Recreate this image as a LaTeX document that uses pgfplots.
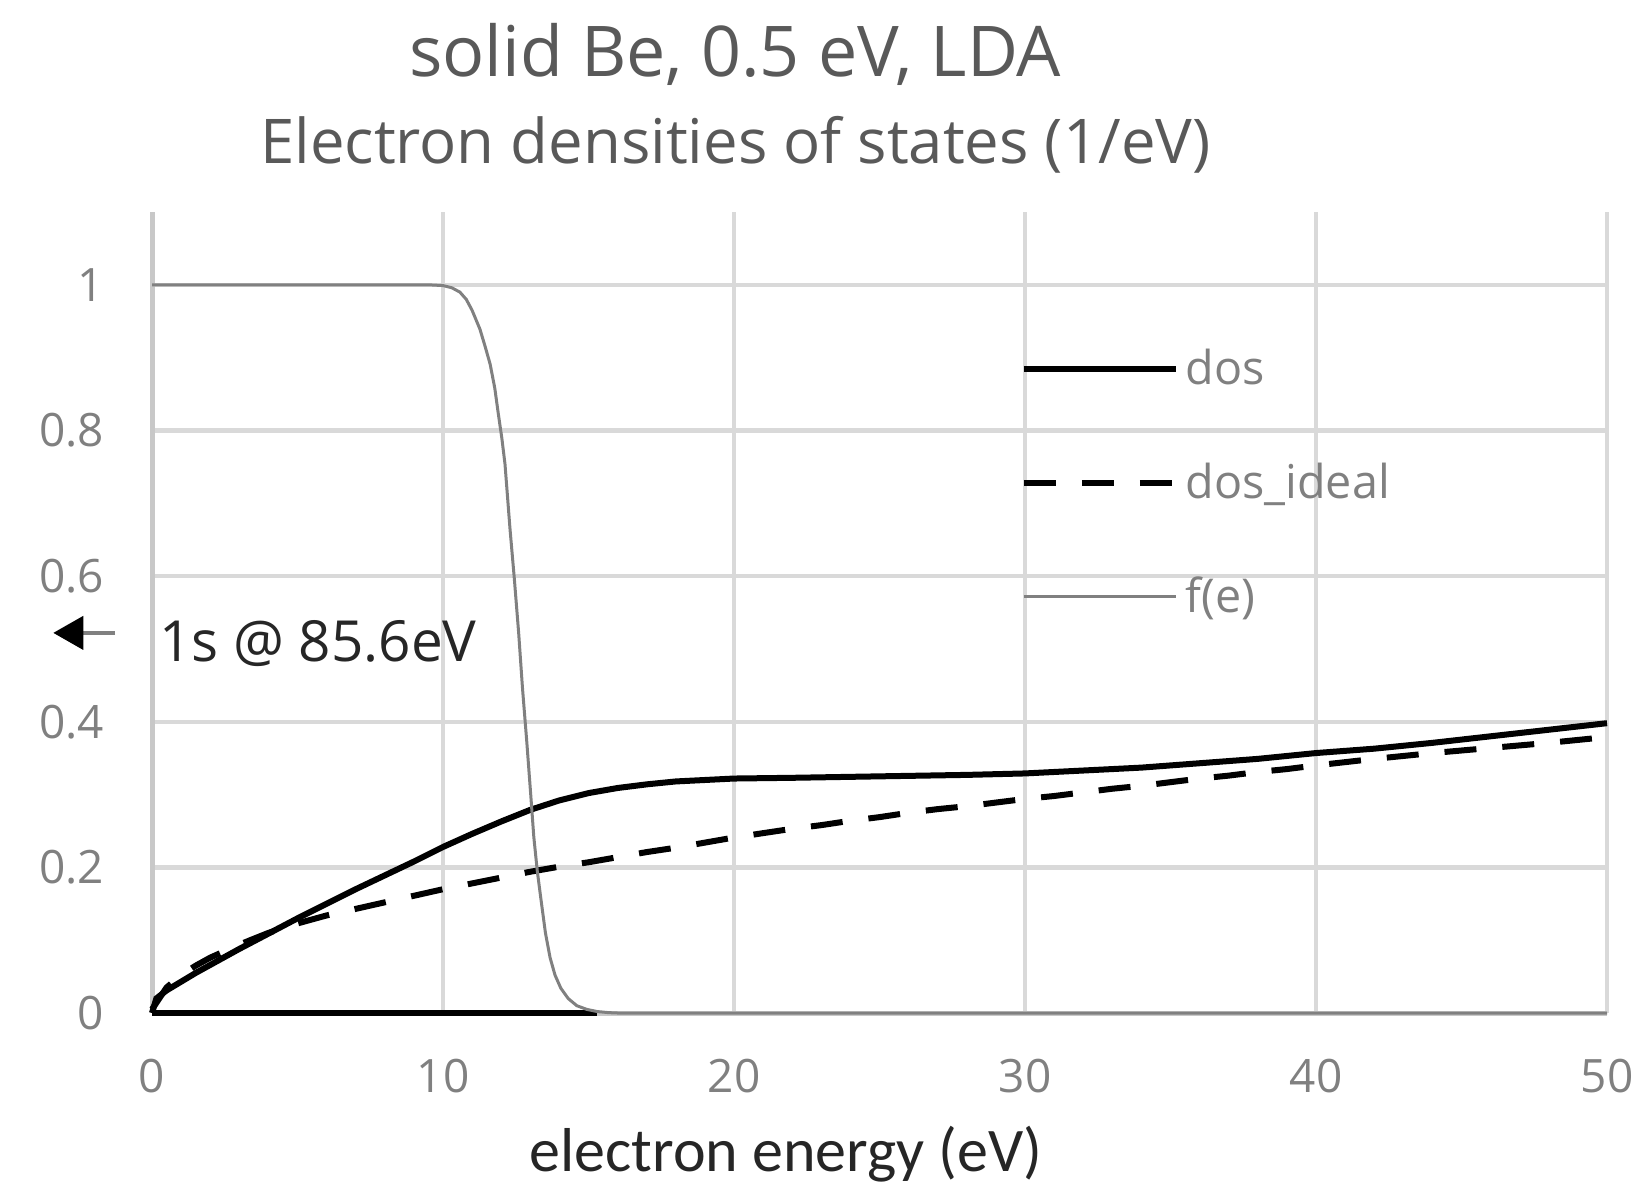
\documentclass[border=0pt]{standalone}
\usepackage{fontspec}
\setmainfont{Open Sans}
\newfontfamily\labelfont{Carlito}
\usepackage{pgfplots}
\pgfplotsset{compat=1.18}
\usetikzlibrary{arrows.meta}

\definecolor{gridgray}{RGB}{217,217,217}
\definecolor{axisgray}{RGB}{200,200,200}
\definecolor{ticktext}{RGB}{128,128,128}
\definecolor{titletext}{RGB}{89,89,89}
\definecolor{darktext}{RGB}{38,38,38}
\definecolor{fermigray}{RGB}{128,128,128}

% density of states from the LDA run
\pgfplotstableread{
E dos
0 0.000
0.15 0.020
0.5 0.031
1 0.043
1.5 0.055
2 0.066
3 0.088
4 0.109
5 0.130
6 0.150
7 0.170
8 0.189
9 0.208
10 0.228
11 0.246
12 0.263
13 0.279
14 0.292
15 0.302
16 0.309
17 0.314
18 0.318
19 0.320
20 0.322
22 0.323
25 0.325
28 0.327
30 0.329
32 0.333
34 0.337
36 0.343
38 0.349
40 0.357
42 0.363
44 0.371
46 0.380
48 0.389
50 0.398
}\dostable

% free-electron reference
\pgfplotstableread{
E dos
0 0.005
0.5 0.035
1 0.052
1.5 0.065
2 0.076
3 0.094
4 0.110
5 0.123
6 0.134
7 0.143
8 0.152
9 0.161
10 0.170
11 0.178
12 0.186
13 0.194
14 0.201
15 0.207
16 0.214
17 0.221
18 0.227
19 0.234
20 0.241
21 0.247
22 0.253
23 0.258
24 0.264
25 0.269
26 0.275
27 0.280
28 0.284
29 0.289
30 0.294
31 0.298
32 0.303
33 0.308
34 0.312
35 0.317
36 0.322
37 0.326
38 0.331
39 0.335
40 0.340
42 0.349
44 0.357
46 0.364
48 0.371
50 0.379
}\idealtable

% occupation f(e)
\pgfplotstableread{
E f
0 1
9.5 1
10.0 0.999
10.3 0.996
10.58 0.990
10.8 0.980
11.0 0.965
11.27 0.939
11.45 0.915
11.62 0.891
11.78 0.858
11.90 0.823
12.02 0.790
12.13 0.754
12.30 0.666
12.45 0.597
12.60 0.522
12.73 0.447
12.88 0.372
13.02 0.297
13.12 0.242
13.24 0.195
13.36 0.158
13.52 0.110
13.68 0.076
13.85 0.052
14.05 0.034
14.30 0.020
14.60 0.010
14.94 0.005
15.3 0.002
15.7 0.0005
16 0
50 0
}\fermitable

\begin{document}
\begin{tikzpicture}
\useasboundingbox (-45.6pt,-55.2pt) rectangle (446.1pt,303.9pt);
\begin{axis}[
  at={(0,0)}, anchor=south west,
  scale only axis, width=436.5pt, height=240.3pt,
  xmin=0, xmax=50, ymin=0, ymax=1.1,
  xtick={0,10,20,30,40,50},
  ytick={0,0.2,0.4,0.6,0.8,1},
  grid=major,
  major grid style={line width=1.3pt, color=gridgray},
  axis lines=left,
  axis line style={-, line width=1.5pt, color=axisgray},
  major tick length=0pt,
  /pgf/number format/assume math mode=true,
  tick label style={font=\fontsize{13.8}{16}\selectfont, text=ticktext},
  xticklabel style={anchor=base, yshift=-23.7pt},
  yticklabel style={anchor=east, inner sep=0pt, xshift=-14.2pt},
  clip=false,
  legend cell align=left,
  legend image code/.code={\draw[#1] (0pt,1.2pt) -- (45.6pt,1.2pt);},
  legend style={at={(axis cs:29.86,0.9087)}, anchor=north west,
    draw=none, fill=none, inner sep=0pt, outer sep=0pt,
    row sep=21.2pt, column sep=2pt,
    font=\fontsize{14}{16}\selectfont, text=ticktext,
    nodes={inner sep=0pt, text height=10pt, text depth=3pt}},
]
\addplot[black, line width=1.8pt] table[x=E, y=dos] {\dostable};
\addlegendentry{dos}
\addplot[black, line width=1.8pt, dash pattern=on 9.6pt off 7.8pt] table[x=E, y=dos] {\idealtable};
\addlegendentry{dos\_ideal}
\addplot[black, line width=1.8pt, forget plot] coordinates {(0,0) (15.3,0)};
\addplot[fermigray, line width=0.9pt] table[x=E, y=f] {\fermitable};
\addlegendentry{f(e)}

% core level marker
\draw[fermigray, line width=1pt, -{Triangle[black, length=9pt, width=10pt]}]
  (axis cs:-1.27,0.522) -- (axis cs:-3.39,0.522);
\node[anchor=base west, inner sep=0pt, text=darktext, font=\fontsize{17}{20}\selectfont]
  at (axis cs:0.22,0.4825) {1s @ 85.6eV};

% titles
\node[anchor=base, inner sep=0pt, text=titletext, font=\fontsize{21}{24}\selectfont]
  at (axis cs:20.04,1.2859) {solid Be, 0.5 eV, LDA};
\node[anchor=base, inner sep=0pt, text=titletext, font=\fontsize{18.5}{22}\selectfont]
  at (axis cs:20.05,1.1669) {Electron densities of states (1/eV)};
\node[anchor=base, inner sep=0pt, text=darktext, font=\labelfont\fontsize{18.6}{22}\selectfont]
  at (axis cs:21.79,-0.217) {electron energy (eV)};
\end{axis}
\end{tikzpicture}
\end{document}
